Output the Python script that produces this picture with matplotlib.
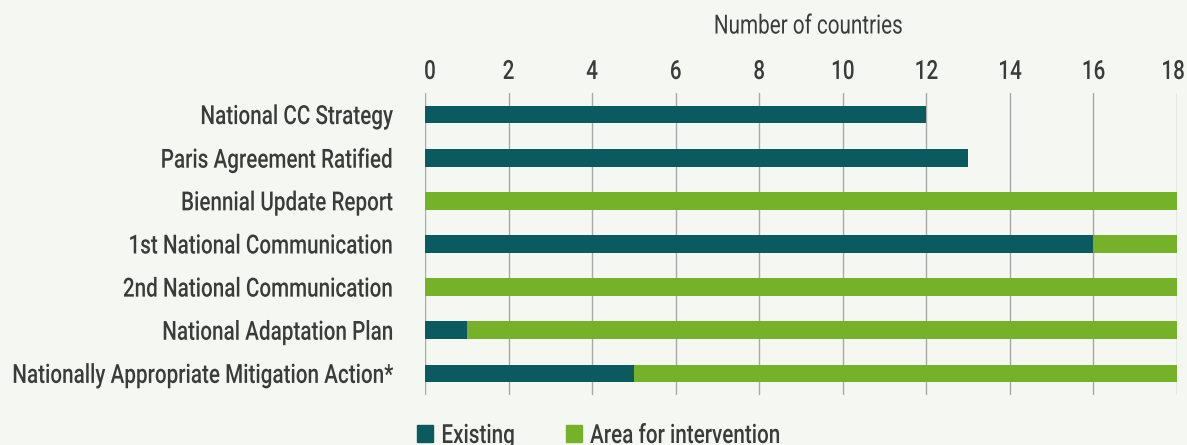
import matplotlib
matplotlib.use("Agg")
import matplotlib.pyplot as plt
from matplotlib.patches import Patch
from matplotlib.patheffects import AbstractPathEffect
from matplotlib.transforms import Affine2D, ScaledTranslation
from matplotlib.textpath import TextPath
from matplotlib.font_manager import FontProperties

categories = [
    "National CC Strategy",
    "Paris Agreement Ratified",
    "Biennial Update Report",
    "1st National Communication",
    "2nd National Communication",
    "National Adaptation Plan",
    "Nationally Appropriate Mitigation Action*",
]
existing = [12, 13, 0, 16, 0, 1, 5]
intervention = [0, 0, 18, 2, 18, 17, 13]
x_ticks = [0, 2, 4, 6, 8, 10, 12, 14, 16, 18]

BG = "#f5f8f2"
TEAL = "#0b5a5f"
GREEN = "#75b22a"
TEXT = "#3b3b3b"
GRID = "#a8a8a8"

FAMILY = ["Roboto", "DejaVu Sans"]
WEIGHT = 500
FS = 19.0  # points
DPI = 100

plt.rcParams["font.family"] = FAMILY
plt.rcParams["font.weight"] = WEIGHT


class Narrow(AbstractPathEffect):
    """Squeeze glyph outlines horizontally to get a condensed face."""

    def __init__(self, sx, anchor=0.0):
        super().__init__()
        self.sx = sx
        self.anchor = anchor

    def draw_path(self, renderer, gc, tpath, affine, rgbFace=None):
        e = tpath.get_extents()
        x0 = e.x0 + self.anchor * e.width
        squeeze = Affine2D().translate(-x0, 0).scale(self.sx, 1).translate(x0, 0)
        renderer.draw_path(gc, tpath, squeeze + affine, rgbFace)


# horizontal squeeze so the label face reads as a condensed type
_probe = TextPath((0, 0), "National CC Strategy", size=FS * DPI / 72,
                  prop=FontProperties(family=FAMILY, weight=WEIGHT))
SX = 191.0 / _probe.get_extents().width

fig = plt.figure(figsize=(11.87, 4.45), dpi=DPI, facecolor=BG)
ax = fig.add_axes([0.358, 0.1124, 0.6336, 0.6786], facecolor=BG)

y = list(range(len(categories)))
ax.barh(y, existing, height=0.41, color=TEAL, zorder=3)
ax.barh(y, intervention, left=existing, height=0.41, color=GREEN, zorder=3)

ax.set_xlim(0, 18)
ax.set_ylim(len(categories) - 0.5, -0.5)
ax.set_xticks(x_ticks)
ax.set_yticks(y)
ax.set_yticklabels(categories)
ax.xaxis.tick_top()
ax.xaxis.set_label_position("top")
xl = ax.set_xlabel("Number of countries", fontsize=FS, color=TEXT)
ax.xaxis.set_label_coords((808 - 425) / 752, (395 - 33.5) / 302)
xl.set_path_effects([Narrow(SX, 0.5)])
ax.tick_params(axis="x", length=0, pad=6.5, labelsize=FS, labelcolor=TEXT)
ax.tick_params(axis="y", length=0, pad=23, labelsize=FS, labelcolor=TEXT)
xlabels = ax.get_xticklabels()
for t in xlabels:
    t.set_path_effects([Narrow(SX, 0.5)])
# keep the end labels inside the frame
xlabels[0].set_transform(xlabels[0].get_transform()
                         + ScaledTranslation(5 / DPI, 0, fig.dpi_scale_trans))
xlabels[-1].set_transform(xlabels[-1].get_transform()
                          + ScaledTranslation(-4 / DPI, 0, fig.dpi_scale_trans))
for t in ax.get_yticklabels():
    t.set_path_effects([Narrow(SX, 1.0)])
ax.grid(axis="x", color=GRID, linewidth=1, zorder=0)
for s in ax.spines.values():
    s.set_visible(False)

fs_px = FS * DPI / 72
legend_items = [(TEAL, "Existing", 417), (GREEN, "Area for intervention", 566)]
for color, label, xpix in legend_items:
    leg = fig.legend(handles=[Patch(color=color, label=label)], loc="center left",
                     bbox_to_anchor=(xpix / 1187, 1 - 436 / 445),
                     frameon=False, fontsize=FS, labelcolor=TEXT,
                     handlelength=16 / fs_px, handleheight=16 / fs_px,
                     handletextpad=8 / fs_px, borderaxespad=0, borderpad=0)
    for t in leg.get_texts():
        t.set_path_effects([Narrow(SX, 0.0)])

fig.savefig("out.png", dpi=DPI, facecolor=BG)
